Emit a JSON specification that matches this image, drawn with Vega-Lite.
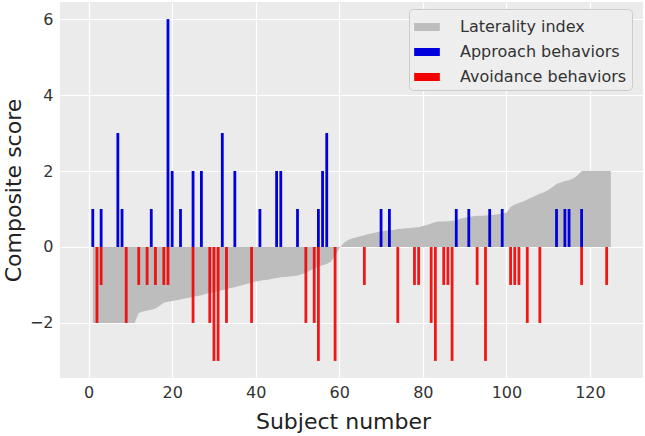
{
  "$schema": "https://vega.github.io/schema/vega-lite/v6.json",
  "description": "Laterality index with approach and avoidance composite scores per subject",
  "width": 583,
  "height": 376,
  "autosize": {"type": "none"},
  "padding": {"left": 60, "top": 2, "right": 2, "bottom": 58},
  "background": "white",
  "config": {
    "font": "DejaVu Sans",
    "view": {"fill": "#ebebeb", "stroke": null},
    "axis": {
      "grid": true,
      "gridColor": "#ffffff",
      "gridWidth": 1.2,
      "domain": false,
      "ticks": false,
      "labelFontSize": 16,
      "labelColor": "#333333",
      "titleFontSize": 22,
      "titleFontWeight": "normal",
      "titleColor": "#222222"
    }
  },
  "datasets": {
    "laterality": [
      {"subject": 1, "value": -2}, {"subject": 2, "value": -2}, {"subject": 3, "value": -2},
      {"subject": 4, "value": -2}, {"subject": 5, "value": -2}, {"subject": 6, "value": -2},
      {"subject": 7, "value": -2}, {"subject": 8, "value": -2}, {"subject": 9, "value": -2},
      {"subject": 10, "value": -2}, {"subject": 11, "value": -2}, {"subject": 12, "value": -1.74},
      {"subject": 13, "value": -1.7}, {"subject": 14, "value": -1.67}, {"subject": 15, "value": -1.65},
      {"subject": 16, "value": -1.62}, {"subject": 17, "value": -1.55}, {"subject": 18, "value": -1.47},
      {"subject": 19, "value": -1.44}, {"subject": 20, "value": -1.42}, {"subject": 21, "value": -1.4},
      {"subject": 22, "value": -1.38}, {"subject": 23, "value": -1.36}, {"subject": 24, "value": -1.34},
      {"subject": 25, "value": -1.31}, {"subject": 26, "value": -1.29}, {"subject": 27, "value": -1.27},
      {"subject": 28, "value": -1.24}, {"subject": 29, "value": -1.21}, {"subject": 30, "value": -1.19},
      {"subject": 31, "value": -1.16}, {"subject": 32, "value": -1.14}, {"subject": 33, "value": -1.11},
      {"subject": 34, "value": -1.08}, {"subject": 35, "value": -1.06}, {"subject": 36, "value": -1.03},
      {"subject": 37, "value": -1.0}, {"subject": 38, "value": -0.97}, {"subject": 39, "value": -0.94},
      {"subject": 40, "value": -0.91}, {"subject": 41, "value": -0.89}, {"subject": 42, "value": -0.87},
      {"subject": 43, "value": -0.86}, {"subject": 44, "value": -0.84}, {"subject": 45, "value": -0.82},
      {"subject": 46, "value": -0.8}, {"subject": 47, "value": -0.79}, {"subject": 48, "value": -0.78},
      {"subject": 49, "value": -0.77}, {"subject": 50, "value": -0.75}, {"subject": 51, "value": -0.72},
      {"subject": 52, "value": -0.68}, {"subject": 53, "value": -0.62}, {"subject": 54, "value": -0.57},
      {"subject": 55, "value": -0.52}, {"subject": 56, "value": -0.48}, {"subject": 57, "value": -0.45},
      {"subject": 58, "value": -0.38}, {"subject": 59, "value": -0.23}, {"subject": 60, "value": -0.05},
      {"subject": 61, "value": 0.1}, {"subject": 62, "value": 0.18}, {"subject": 63, "value": 0.22},
      {"subject": 64, "value": 0.25}, {"subject": 65, "value": 0.28}, {"subject": 66, "value": 0.31},
      {"subject": 67, "value": 0.34}, {"subject": 68, "value": 0.36}, {"subject": 69, "value": 0.39},
      {"subject": 70, "value": 0.41}, {"subject": 71, "value": 0.43}, {"subject": 72, "value": 0.44},
      {"subject": 73, "value": 0.45}, {"subject": 74, "value": 0.47}, {"subject": 75, "value": 0.48},
      {"subject": 76, "value": 0.49}, {"subject": 77, "value": 0.5}, {"subject": 78, "value": 0.51},
      {"subject": 79, "value": 0.52}, {"subject": 80, "value": 0.55}, {"subject": 81, "value": 0.58},
      {"subject": 82, "value": 0.62}, {"subject": 83, "value": 0.66}, {"subject": 84, "value": 0.67},
      {"subject": 85, "value": 0.67}, {"subject": 86, "value": 0.68}, {"subject": 87, "value": 0.69},
      {"subject": 88, "value": 0.7}, {"subject": 89, "value": 0.75}, {"subject": 90, "value": 0.77},
      {"subject": 91, "value": 0.79}, {"subject": 92, "value": 0.81}, {"subject": 93, "value": 0.82},
      {"subject": 94, "value": 0.82}, {"subject": 95, "value": 0.83}, {"subject": 96, "value": 0.84},
      {"subject": 97, "value": 0.85}, {"subject": 98, "value": 0.86}, {"subject": 99, "value": 0.88},
      {"subject": 100, "value": 0.9}, {"subject": 101, "value": 1.05}, {"subject": 102, "value": 1.12},
      {"subject": 103, "value": 1.16}, {"subject": 104, "value": 1.2}, {"subject": 105, "value": 1.25},
      {"subject": 106, "value": 1.3}, {"subject": 107, "value": 1.35}, {"subject": 108, "value": 1.4},
      {"subject": 109, "value": 1.44}, {"subject": 110, "value": 1.5}, {"subject": 111, "value": 1.57},
      {"subject": 112, "value": 1.66}, {"subject": 113, "value": 1.7}, {"subject": 114, "value": 1.74},
      {"subject": 115, "value": 1.76}, {"subject": 116, "value": 1.8}, {"subject": 117, "value": 1.88},
      {"subject": 118, "value": 2}, {"subject": 119, "value": 2}, {"subject": 120, "value": 2},
      {"subject": 121, "value": 2}, {"subject": 122, "value": 2}, {"subject": 123, "value": 2},
      {"subject": 124, "value": 2}, {"subject": 125, "value": 2}
    ],
    "approach": [
      {"subject": 1, "value": 1}, {"subject": 3, "value": 1}, {"subject": 7, "value": 3},
      {"subject": 8, "value": 1}, {"subject": 15, "value": 1}, {"subject": 19, "value": 6},
      {"subject": 20, "value": 2}, {"subject": 22, "value": 1}, {"subject": 25, "value": 2},
      {"subject": 27, "value": 2}, {"subject": 32, "value": 3}, {"subject": 35, "value": 2},
      {"subject": 41, "value": 1}, {"subject": 45, "value": 2}, {"subject": 46, "value": 2},
      {"subject": 50, "value": 1}, {"subject": 55, "value": 1}, {"subject": 56, "value": 2},
      {"subject": 57, "value": 3}, {"subject": 70, "value": 1}, {"subject": 72, "value": 1},
      {"subject": 88, "value": 1}, {"subject": 91, "value": 1}, {"subject": 96, "value": 1},
      {"subject": 99, "value": 1}, {"subject": 112, "value": 1}, {"subject": 114, "value": 1},
      {"subject": 115, "value": 1}, {"subject": 118, "value": 1}
    ],
    "avoidance": [
      {"subject": 2, "value": -2}, {"subject": 3, "value": -1}, {"subject": 9, "value": -2},
      {"subject": 12, "value": -1}, {"subject": 14, "value": -1}, {"subject": 16, "value": -1},
      {"subject": 18, "value": -1}, {"subject": 19, "value": -1}, {"subject": 25, "value": -2},
      {"subject": 29, "value": -2}, {"subject": 30, "value": -3}, {"subject": 31, "value": -3},
      {"subject": 33, "value": -2}, {"subject": 39, "value": -2}, {"subject": 52, "value": -2},
      {"subject": 54, "value": -2}, {"subject": 55, "value": -3}, {"subject": 59, "value": -3},
      {"subject": 66, "value": -1}, {"subject": 74, "value": -2}, {"subject": 78, "value": -1},
      {"subject": 79, "value": -1}, {"subject": 82, "value": -2}, {"subject": 83, "value": -3},
      {"subject": 85, "value": -1}, {"subject": 86, "value": -1}, {"subject": 87, "value": -3},
      {"subject": 93, "value": -1}, {"subject": 95, "value": -3}, {"subject": 101, "value": -1},
      {"subject": 102, "value": -1}, {"subject": 103, "value": -1}, {"subject": 105, "value": -2},
      {"subject": 108, "value": -2}, {"subject": 118, "value": -1}, {"subject": 124, "value": -1}
    ]
  },
  "encoding": {
    "x": {
      "field": "subject",
      "type": "quantitative",
      "scale": {"domain": [-5.65, 131.5], "nice": false, "zero": false},
      "axis": {"values": [0, 20, 40, 60, 80, 100, 120], "title": "Subject number", "labelPadding": 6, "titlePadding": 11, "titleX": 283}
    },
    "y": {
      "field": "value",
      "type": "quantitative",
      "scale": {"domain": [-3.45, 6.45], "nice": false, "zero": false},
      "axis": {"values": [-2, 0, 2, 4, 6], "title": "Composite score", "labelPadding": 7, "titlePadding": 4}
    },
    "y2": {"datum": 0},
    "color": {
      "scale": {
        "domain": ["Laterality index", "Approach behaviors", "Avoidance behaviors"],
        "range": ["#bdbdbd", "#0000dd", "#f20000"]
      },
      "legend": {
        "orient": "none",
        "legendX": 349,
        "legendY": 7,
        "title": null,
        "symbolType": "M-1,-0.31H1V0.31H-1Z",
        "symbolSize": 660,
        "symbolStrokeWidth": 0,
        "symbolOpacity": 1,
        "labelFontSize": 16,
        "labelLimit": 400,
        "labelColor": "#333333",
        "labelOffset": 20,
        "rowPadding": 4,
        "padding": 5,
        "fillColor": "#eeeeee",
        "strokeColor": "#cccccc",
        "cornerRadius": 4
      }
    }
  },
  "layer": [
    {
      "data": {"name": "laterality"},
      "mark": {"type": "area"},
      "encoding": {"color": {"datum": "Laterality index"}}
    },
    {
      "data": {"name": "approach"},
      "mark": {"type": "bar", "width": 2.8},
      "encoding": {"color": {"datum": "Approach behaviors"}}
    },
    {
      "data": {"name": "avoidance"},
      "mark": {"type": "bar", "width": 2.8, "opacity": 0.9},
      "encoding": {"color": {"datum": "Avoidance behaviors"}}
    }
  ]
}
